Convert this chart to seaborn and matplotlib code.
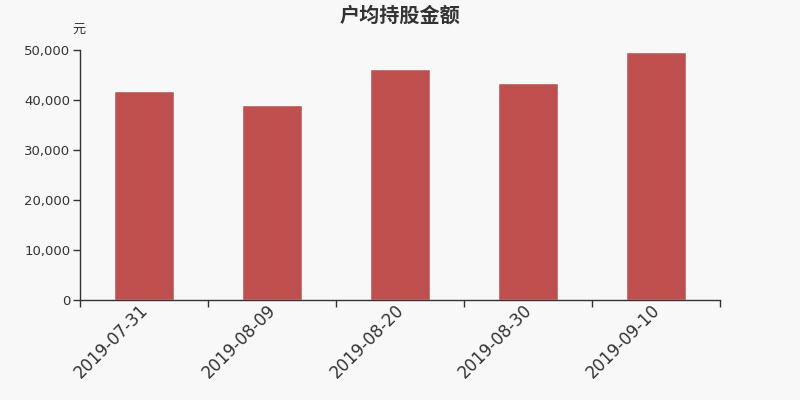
import matplotlib
matplotlib.use("Agg")
import matplotlib.pyplot as plt
import matplotlib.ticker as ticker
import matplotlib.transforms as mtransforms
import pandas as pd
import seaborn as sns

# 数据
dates = ["2019-07-31", "2019-08-09", "2019-08-20", "2019-08-30", "2019-09-10"]
amounts = [41800, 39000, 46200, 43400, 49600]

sns.set_style("white")
plt.rcParams["font.family"] = ["DejaVu Sans", "Noto Sans CJK SC"]

bg = "#f8f8f8"
axis_color = "#333333"

df = pd.DataFrame({"date": dates, "amount": amounts})

fig = plt.figure(figsize=(8, 4), dpi=100, facecolor=bg)
ax = fig.add_axes([0.1, 0.25, 0.8, 0.625], facecolor=bg)

sns.barplot(data=df, x="date", y="amount", color="#c0504d", saturation=1,
            width=0.47, ax=ax)

ax.set_xlim(-0.5, len(dates) - 0.5)
ax.set_ylim(0, 50000)
ax.yaxis.set_major_locator(ticker.MultipleLocator(10000))
ax.yaxis.set_major_formatter(ticker.FuncFormatter(lambda v, _: f"{int(v):,}"))

# 刻度线放在类别边界，标签放在类别中心
ax.set_xticks(range(len(dates)))
ax.set_xticklabels(dates, rotation=45, ha="right", rotation_mode="anchor",
                   fontsize=12, color=axis_color)
ax.set_xticks([i - 0.5 for i in range(len(dates) + 1)], minor=True)
ax.tick_params(axis="x", which="major", bottom=True, length=0, pad=1)
ax.tick_params(axis="x", which="minor", bottom=True, length=5, width=1,
               color=axis_color, direction="out")
ax.tick_params(axis="y", left=True, length=5, width=1, color=axis_color,
               labelsize=9.5, labelcolor=axis_color, direction="out", pad=2)

# 标签稍微左移
shift = mtransforms.ScaledTranslation(-5 / 100, 0, fig.dpi_scale_trans)
for lbl in ax.get_xticklabels():
    lbl.set_transform(lbl.get_transform() + shift)

ax.set_xlabel("")
ax.set_ylabel("")
sns.despine(ax=ax)
for side in ["left", "bottom"]:
    ax.spines[side].set_color(axis_color)
    ax.spines[side].set_linewidth(1)

fig.text(0.5, 0.963, "户均持股金额", ha="center", va="center",
         family=["Noto Sans CJK SC"], fontsize=14.5, fontweight="bold", color=axis_color)
fig.text(0.099, 0.928, "元", ha="center", va="center",
         family=["Noto Sans CJK SC"], fontsize=9.5, color=axis_color)

plt.savefig("out.png", dpi=100, facecolor=bg)
plt.close()
